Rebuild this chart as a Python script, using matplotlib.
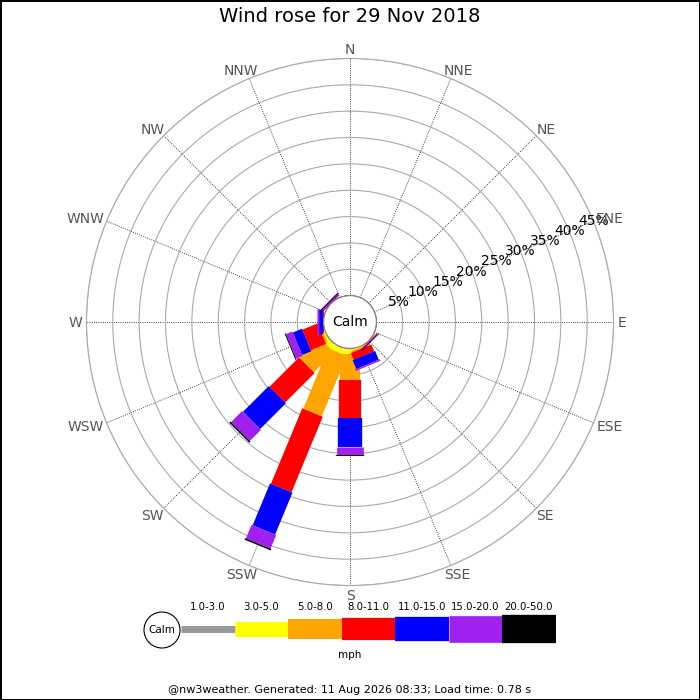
import numpy as np
import matplotlib.pyplot as plt
from matplotlib.patches import Circle

# 16 compass directions, clockwise from N
directions = ['N', 'NNE', 'NE', 'ENE', 'E', 'ESE', 'SE', 'SSE',
              'S', 'SSW', 'SW', 'WSW', 'W', 'WNW', 'NW', 'NNW']
speed_bins = ['1.0-3.0', '3.0-5.0', '5.0-8.0', '8.0-11.0',
              '11.0-15.0', '15.0-20.0', '20.0-50.0']
bin_colors = ['#999999', '#ffff00', '#ffa500', '#ff0000',
              '#0000ff', '#a020f0', '#000000']
bin_widths = [5, 10.8, 14.4, 16, 17.5, 19.2, 20.4]  # pt

# frequency (%) per speed bin, per direction
f_1_3   = [0, 0, 0, 0, 0, 0, 0,   0,   0.2, 0.2,  0.2, 0.1, 0,   0, 0,   0]
f_3_5   = [0, 0, 0, 0, 0, 0, 0,   0.2, 0.8, 1.0,  1.0, 0.3, 0,   0, 0,   0]
f_5_8   = [0, 0, 0, 0, 0, 0, 0.1, 0.3, 5.0, 12.4, 5.4, 0.4, 0,   0, 0,   0]
f_8_11  = [0, 0, 0, 0, 0, 0, 0.2, 1.4, 7.2, 15.5, 7.9, 3.1, 0.2, 0, 0.3, 0]
f_11_15 = [0, 0, 0, 0, 0, 0, 0.2, 1.8, 5.5, 8.6,  6.9, 1.9, 0.7, 0, 0.3, 0]
f_15_20 = [0, 0, 0, 0, 0, 0, 0,   0.3, 1.5, 2.8,  3.0, 1.3, 0.4, 0, 0,   0]
f_20_50 = [0, 0, 0, 0, 0, 0, 0,   0,   0.2, 0.3,  0.3, 0.2, 0,   0, 0,   0]
freqs = [f_1_3, f_3_5, f_5_8, f_8_11, f_11_15, f_15_20, f_20_50]

rings = [5, 10, 15, 20, 25, 30, 35, 40, 45]

fig = plt.figure(figsize=(7, 7), dpi=100, facecolor='white',
                 edgecolor='black', linewidth=1)
fig.text(0.5, 1 - 17/700, 'Wind rose for 29 Nov 2018', ha='center',
         va='center', fontsize=14)

ax = fig.add_axes([0.1235, 0.1635, 0.753, 0.753], projection='polar')
ax.set_theta_zero_location('N')
ax.set_theta_direction(-1)
ax.set_rorigin(-5)
ax.set_ylim(0, 45)

theta = np.deg2rad(np.arange(16) * 22.5)
ax.set_xticks(theta)
ax.set_xticklabels([])
ax.set_yticks(rings)
ax.set_yticklabels([])
ax.grid(axis='x', color='black', linestyle=':', linewidth=0.6)
ax.grid(axis='y', color='#aaaaaa', linestyle='-', linewidth=0.8)
ax.spines['polar'].set_color('#aaaaaa')
ax.spines['polar'].set_linewidth(0.8)

# ring labels centred on the rings, along ENE
for r in rings:
    ax.text(np.deg2rad(67.5), r, f'{r}%', ha='center', va='center',
            fontsize=10, zorder=12)

# stacked thick lines, one bin at a time
base = np.zeros(16)
for vals, col, lw in zip(freqs, bin_colors, bin_widths):
    vals = np.array(vals)
    for i in range(16):
        if vals[i] > 0:
            ax.plot([theta[i], theta[i]], [base[i], base[i] + vals[i]],
                    color=col, linewidth=lw, solid_capstyle='butt', zorder=3)
    base += vals

ax.add_patch(Circle((0.5, 0.5), 0.05, transform=ax.transAxes,
                    facecolor='white', edgecolor='#888888', linewidth=0.8,
                    zorder=10, clip_on=False))
ax.text(0.5, 0.5, 'Calm', transform=ax.transAxes, ha='center', va='center',
        fontsize=10, zorder=11)

# compass labels: pushed out from the circle by their own half size
labels = [fig.text(0, 0, name, ha='center', va='baseline', fontsize=10,
                   color='#555555') for name in directions]
fig.canvas.draw()
bb = ax.bbox
cx, cy = (bb.x0 + bb.x1) / 2, (bb.y0 + bb.y1) / 2
rad = bb.width / 2
gap, cap = 4, 10.1
for t, a in zip(labels, theta):
    s, c = np.sin(a), np.cos(a)
    hw = t.get_window_extent().width / 2
    x = cx + (rad + gap) * s + s * hw
    y = cy + (rad + gap) * c + c * cap / 2 - cap / 2
    t.set_position(fig.transFigure.inverted().transform((x, y)))

# legend strip
lg = fig.add_axes([0, 0, 1, 1])
lg.set_xlim(0, 700)
lg.set_ylim(700, 0)
lg.axis('off')
lg.add_patch(Circle((162, 630), 18, facecolor='white', edgecolor='black',
                    linewidth=0.8, zorder=5))
lg.text(162, 630, 'Calm', ha='center', va='center', fontsize=7.5, zorder=6)
seg = 53.5
for i, (lab, col, lw) in enumerate(zip(speed_bins, bin_colors, bin_widths)):
    x0 = 181 + i * seg
    lg.plot([x0, x0 + seg], [629, 629], color=col, linewidth=lw,
            solid_capstyle='butt')
    lg.text(x0 + seg / 2, 607, lab, ha='center', va='center', fontsize=7.3)
lg.text(350, 655, 'mph', ha='center', va='center', fontsize=7.5)
lg.text(350, 690, '@nw3weather. Generated: 11 Aug 2026 08:33; Load time: 0.78 s',
        ha='center', va='center', fontsize=8)

plt.savefig('out.png', dpi=100)
